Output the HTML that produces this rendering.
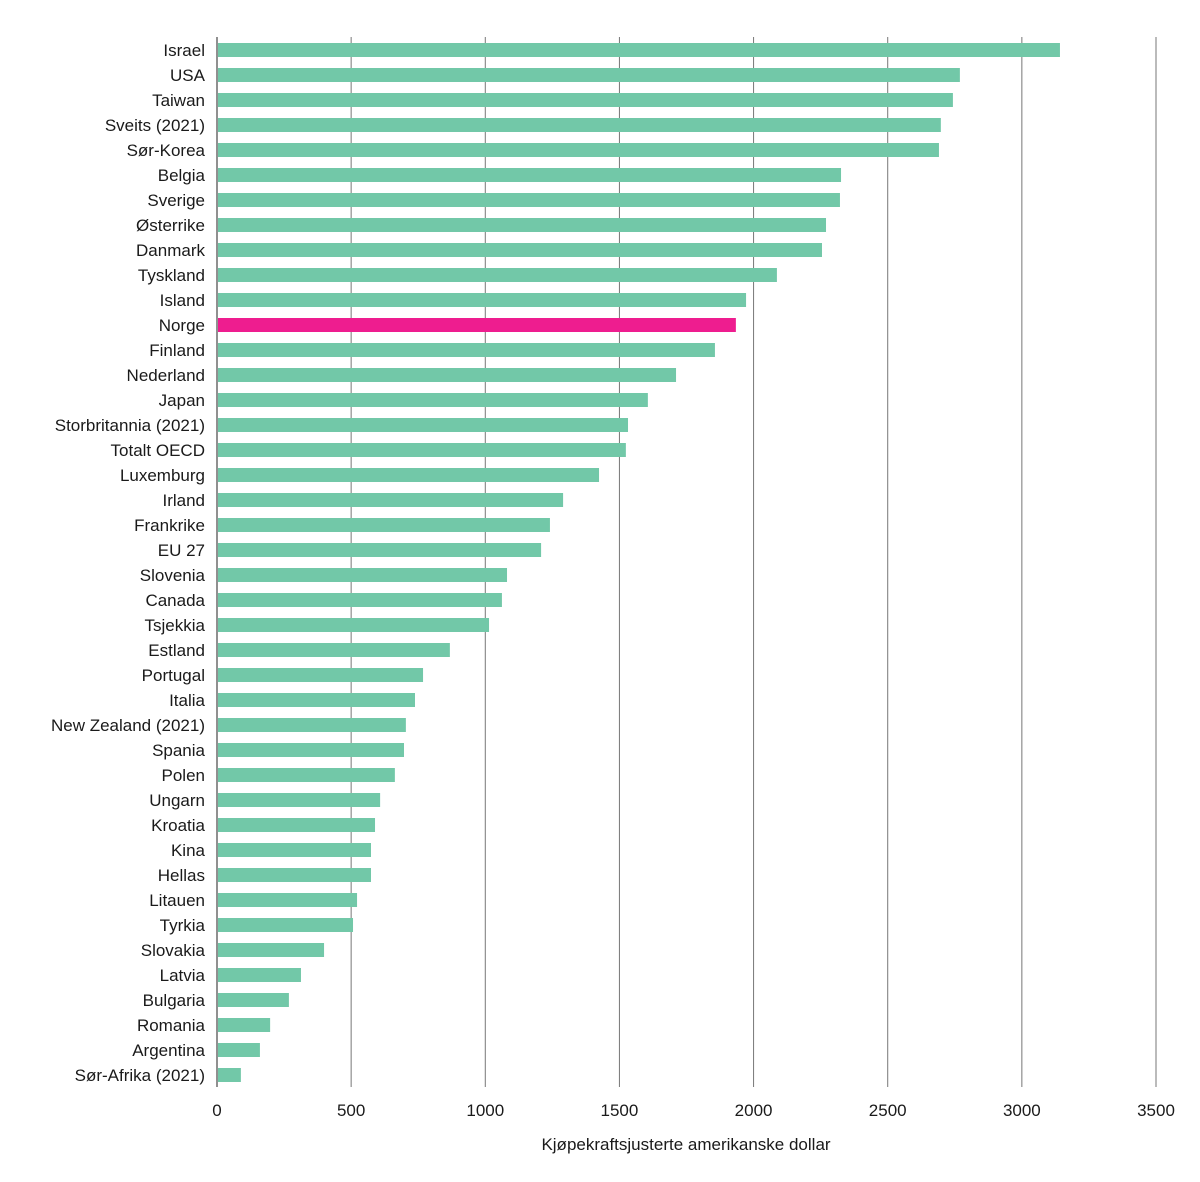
<!DOCTYPE html>
<html><head><meta charset="utf-8"><style>
body{margin:0;background:#fff;}
svg text{font-family:"Liberation Sans",sans-serif;fill:#1a1a1a;}
</style></head><body>
<svg id="chart" width="1200" height="1177" xmlns="http://www.w3.org/2000/svg"></svg>
<script>
const categories=["Israel","USA","Taiwan","Sveits (2021)","Sør-Korea","Belgia","Sverige","Østerrike","Danmark","Tyskland","Island","Norge","Finland","Nederland","Japan","Storbritannia (2021)","Totalt OECD","Luxemburg","Irland","Frankrike","EU 27","Slovenia","Canada","Tsjekkia","Estland","Portugal","Italia","New Zealand (2021)","Spania","Polen","Ungarn","Kroatia","Kina","Hellas","Litauen","Tyrkia","Slovakia","Latvia","Bulgaria","Romania","Argentina","Sør-Afrika (2021)"];
const values=[3142,2769,2743,2698,2691,2326,2322,2270,2255,2087,1972,1934,1856,1711,1606,1532,1524,1424,1290,1241,1208,1081,1062,1014,868,768,738,704,697,663,608,589,574,574,522,507,399,313,268,198,160,89];
const ticks=[0,500,1000,1500,2000,2500,3000,3500];
const highlight="Norge";
const svg=document.getElementById('chart');
const NS="http://www.w3.org/2000/svg";
const x0=217,x1=1156,xmax=3500;
const xs=v=>x0+(v/xmax)*(x1-x0);
const ys=i=>50+i*25;
function mk(t,a){const e=document.createElementNS(NS,t);for(const k in a)e.setAttribute(k,a[k]);svg.appendChild(e);return e;}
ticks.forEach(t=>{
  const l=mk('line',{x1:xs(t),x2:xs(t),y1:37,y2:1087,stroke:t===0?'#222':'#777','stroke-width':1});
  
  
  const tx=mk('text',{x:xs(t),y:1116,'text-anchor':'middle','font-size':17});
  tx.textContent=t;
  
  
});
categories.forEach((c,i)=>{
  const r=mk('rect',{x:x0+1,y:ys(i)-7,width:xs(values[i])-x0-1,height:14,fill:c===highlight?'#ee1d8f':'#72c8a8'});
  
  
  const t=mk('text',{x:205,y:ys(i)+6,'text-anchor':'end','font-size':17});
  t.textContent=c;
  
  
});
const at=mk('text',{x:686,y:1150,'text-anchor':'middle','font-size':17});
at.textContent="Kjøpekraftsjusterte amerikanske dollar";


</script>
</body></html>
